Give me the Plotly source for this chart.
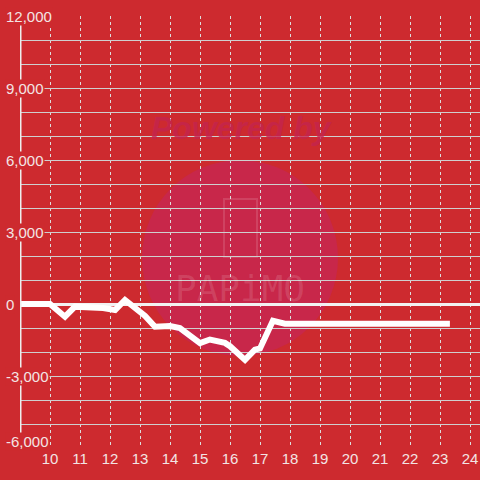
import plotly.graph_objects as go

# ---- data ----
hours = [9.0, 10.0, 10.5, 10.83, 11.77, 12.17, 12.5, 12.83, 13.17, 13.5, 14.0, 14.33,
         15.0, 15.33, 15.83, 16.0, 16.5, 16.83, 17.0, 17.43, 17.83, 23.33]
values = [0, 0, -530, -110, -170, -250, 170, -170, -500, -950, -920, -1000,
          -1630, -1480, -1620, -1760, -2330, -1900, -1850, -700, -820, -820]
y_tick_vals = [12000, 9000, 6000, 3000, 0, -3000, -6000]
y_tick_text = ["12,000", "9,000", "6,000", "3,000", "0", "-3,000", "-6,000"]
x_tick_vals = list(range(10, 25))
x_tick_text = [str(v) for v in x_tick_vals]

BG = "#cd2a2f"
GRID = "#cfcfcf"
TXT = "#f3e4e4"
FONT = "Liberation Sans, Arial, sans-serif"

W, H = 480, 480
ML, MR, MT, MB = 20, 0, 16, 32
X0, X1 = 9.0, 24.3333
Y0, Y1 = -6000, 12000


def dx(px):
    return X0 + (px - ML) * (X1 - X0) / (W - ML - MR)


def dy(py):
    return Y1 - (py - MT) * (Y1 - Y0) / (H - MT - MB)


fig = go.Figure()
fig.add_trace(go.Scatter(x=hours, y=values, mode="lines",
                         line=dict(color="#ffffff", width=6),
                         hoverinfo="skip", showlegend=False))

shapes = [
    # watermark circle
    dict(type="circle", xref="x", yref="y", x0=dx(142), x1=dx(338), y0=dy(356), y1=dy(160),
         fillcolor="#c8274a", line=dict(width=0), layer="below"),
    # phone icon
    dict(type="rect", xref="x", yref="y", x0=dx(224), x1=dx(257), y0=dy(257), y1=dy(199),
         line=dict(color="rgba(255,255,255,0.13)", width=2), layer="below"),
    # y axis line
    dict(type="line", xref="x", yref="y", x0=X0, x1=X0, y0=Y0, y1=Y1,
         line=dict(color="#eeeeee", width=3), layer="above"),
]

annotations = [
    dict(text="Powered by", xref="x", yref="y", x=dx(242), y=dy(128), showarrow=False,
         font=dict(family=FONT, size=32, color="rgba(196,36,78,0.8)", weight="bold", style="italic")),
    dict(text="PAPiMO", xref="x", yref="y", x=dx(240), y=dy(288), showarrow=False,
         font=dict(family="DejaVu Sans Mono", size=36, color="rgba(255,255,255,0.13)")),
]
for v, t in zip(y_tick_vals, y_tick_text):
    annotations.append(dict(text=t, xref="paper", yref="y", x=(5 - ML) / (W - ML - MR), y=v,
                            xanchor="left", yanchor="middle", showarrow=False,
                            yshift=7 if v == Y0 else 0,
                            bgcolor=BG, borderpad=0,
                            font=dict(family=FONT, size=15, color=TXT)))

fig.update_layout(
    width=W, height=H,
    margin=dict(l=ML, r=MR, t=MT, b=MB),
    paper_bgcolor=BG, plot_bgcolor=BG,
    showlegend=False,
    shapes=shapes,
    annotations=annotations,
    xaxis=dict(range=[X0, X1], tickvals=x_tick_vals, ticktext=x_tick_text,
               showgrid=True, gridcolor="#dddddd", griddash="dot", gridwidth=1,
               zeroline=False, showline=False, ticks="",
               tickfont=dict(family=FONT, size=15, color=TXT)),
    yaxis=dict(range=[Y0, Y1], dtick=1000, tick0=0, showticklabels=False,
               showgrid=True, gridcolor=GRID, gridwidth=1,
               zeroline=True, zerolinecolor="#f2f2f2", zerolinewidth=3,
               showline=False, ticks=""),
)

fig.write_html("out.html", config={"displayModeBar": False},
               post_script="document.body.style.margin='0';document.body.style.background='" + BG + "';")
